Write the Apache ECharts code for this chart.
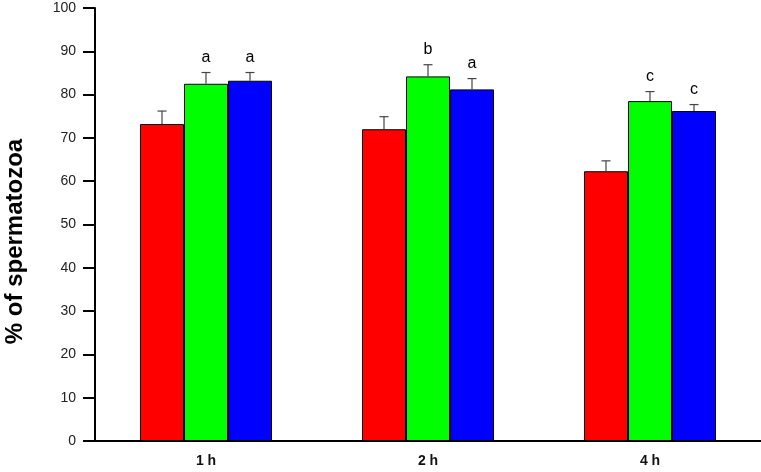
<!DOCTYPE html>
<html><head><meta charset="utf-8">
<script src="https://cdn.jsdelivr.net/npm/echarts@6/dist/echarts.min.js"></script>
<style>html,body{margin:0;padding:0;background:#fff}#c{width:761px;height:472px}</style>
</head><body><div id="c"></div>
<script>
var categories = ['1 h', '2 h', '4 h'];
var redValues = [73.2, 72.0, 62.3];
var greenValues = [82.5, 84.2, 78.5];
var blueValues = [83.2, 81.2, 76.2];
var redErr = [3.0, 2.9, 2.4];
var greenErr = [2.6, 2.7, 2.2];
var blueErr = [1.9, 2.5, 1.5];
var redLetters = ['', '', ''];
var greenLetters = ['a', 'b', 'c'];
var blueLetters = ['a', 'a', 'c'];
var yTicks = [0, 10, 20, 30, 40, 50, 60, 70, 80, 90, 100];

var BAR_W = 44;
var FONT = 'Liberation Sans, Arial, sans-serif';

function errSeries(name, values, errs, letters, offset) {
  return {
    type: 'custom',
    name: name + ' err',
    z: 5,
    data: values.map(function (v, i) { return [i, v, errs[i]]; }),
    renderItem: function (params, api) {
      var i = params.dataIndex;
      var base = api.coord([api.value(0), api.value(1)]);
      var top = api.coord([api.value(0), api.value(1) + api.value(2)]);
      var x = base[0] + offset;
      var children = [
        { type: 'line', shape: { x1: x, y1: base[1], x2: x, y2: top[1] }, style: { stroke: '#444', lineWidth: 1.2 } },
        { type: 'line', shape: { x1: x - 4.5, y1: top[1], x2: x + 4.5, y2: top[1] }, style: { stroke: '#444', lineWidth: 1.2 } }
      ];
      if (letters[i]) {
        children.push({ type: 'text', style: { text: letters[i], x: x, y: top[1] - 7, textAlign: 'center', textVerticalAlign: 'bottom', fill: '#000', font: '16px ' + FONT } });
      }
      return { type: 'group', children: children };
    }
  };
}

var chart = echarts.init(document.getElementById('c'));
chart.setOption({
  animation: false,
  backgroundColor: '#fff',
  grid: { left: 95, right: 0, top: 8, bottom: 31, containLabel: false, outerBoundsMode: 'none' },
  xAxis: {
    type: 'category',
    data: categories,
    axisLine: { lineStyle: { color: '#000', width: 2 } },
    axisTick: { alignWithLabel: true, length: 6, lineStyle: { color: '#000', width: 2 } },
    axisLabel: { color: '#111', fontWeight: 'bold', fontSize: 14, fontFamily: FONT, margin: 13 }
  },
  yAxis: {
    type: 'value',
    min: yTicks[0], max: yTicks[yTicks.length - 1], interval: 10,
    name: '% of spermatozoa',
    nameLocation: 'middle',
    nameRotate: 90,
    nameGap: 68,
    nameTextStyle: { color: '#000', fontWeight: 'bold', fontSize: 24, fontFamily: FONT, padding: [0, 34, 0, 0] },
    axisLine: { show: true, lineStyle: { color: '#000', width: 2 } },
    axisTick: { show: true, length: 12, lineStyle: { color: '#000', width: 2 } },
    axisLabel: { color: '#222', fontSize: 14, fontFamily: FONT, margin: 19 },
    splitLine: { show: false }
  },
  series: [
    { type: 'bar', name: 'red', data: redValues, barWidth: BAR_W, barGap: '0%', itemStyle: { color: '#ff0000', borderColor: '#000', borderWidth: 1 } },
    { type: 'bar', name: 'green', data: greenValues, barWidth: BAR_W, barGap: '0%', itemStyle: { color: '#00ff00', borderColor: '#000', borderWidth: 1 } },
    { type: 'bar', name: 'blue', data: blueValues, barWidth: BAR_W, barGap: '0%', itemStyle: { color: '#0000ff', borderColor: '#000', borderWidth: 1 } },
    errSeries('red', redValues, redErr, redLetters, -BAR_W),
    errSeries('green', greenValues, greenErr, greenLetters, 0),
    errSeries('blue', blueValues, blueErr, blueLetters, BAR_W)
  ]
});
</script></body></html>
